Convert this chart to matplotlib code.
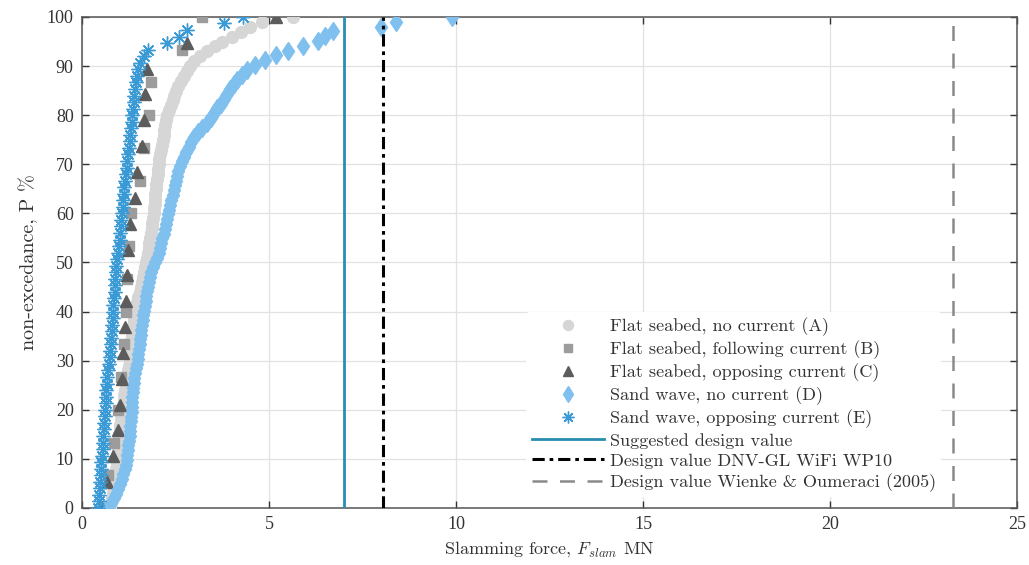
import numpy as np
import matplotlib
matplotlib.use("Agg")
import matplotlib.pyplot as plt

# ---------------- data (sorted slamming forces, MN) ----------------
flat_no_current = [
    0.75, 0.78, 0.80, 0.83, 0.85, 0.87, 0.89, 0.90, 0.92, 0.94, 0.95,
    0.96, 0.97, 0.98, 0.99, 1.00, 1.01, 1.02, 1.04, 1.05, 1.07,
    1.09, 1.11, 1.13, 1.15, 1.17, 1.19, 1.21, 1.23, 1.25, 1.28,
    1.29, 1.30, 1.31, 1.32, 1.34, 1.35, 1.37, 1.38, 1.40, 1.42,
    1.45, 1.48, 1.51, 1.54, 1.57, 1.60, 1.63, 1.66, 1.69, 1.72,
    1.74, 1.76, 1.78, 1.80, 1.82, 1.84, 1.86, 1.87, 1.89, 1.92,
    1.93, 1.94, 1.95, 1.96, 1.97, 1.99, 2.00, 2.02, 2.03, 2.05,
    2.07, 2.09, 2.11, 2.14, 2.16, 2.18, 2.20, 2.22, 2.24, 2.28,
    2.32, 2.37, 2.42, 2.47, 2.52, 2.58, 2.65, 2.72, 2.80, 2.90,
    3.00, 3.15, 3.35, 3.55, 3.75, 4.00, 4.25, 4.50, 4.80, 5.64,
]
flat_following = [0.55, 0.70, 0.85, 0.97, 1.05, 1.12, 1.17, 1.20, 1.25, 1.32,
                  1.55, 1.65, 1.80, 1.85, 2.67, 3.22]
flat_opposing = [0.53, 0.67, 0.83, 0.96, 1.02, 1.07, 1.10, 1.15, 1.18, 1.20,
                 1.22, 1.28, 1.42, 1.47, 1.60, 1.66, 1.68, 1.73, 2.80, 5.20]
sand_no_current = [
    0.70, 0.78, 0.85, 0.91, 0.97, 1.02, 1.07, 1.10, 1.14, 1.17, 1.20,
    1.21, 1.23, 1.24, 1.26, 1.27, 1.28, 1.29, 1.30, 1.32, 1.33,
    1.34, 1.35, 1.35, 1.36, 1.37, 1.38, 1.40, 1.42, 1.45, 1.48,
    1.50, 1.51, 1.53, 1.55, 1.56, 1.58, 1.59, 1.61, 1.62, 1.64,
    1.66, 1.68, 1.70, 1.72, 1.74, 1.76, 1.79, 1.82, 1.85, 1.90,
    1.95, 2.00, 2.05, 2.09, 2.12, 2.15, 2.18, 2.21, 2.24, 2.27,
    2.30, 2.33, 2.36, 2.39, 2.42, 2.45, 2.48, 2.51, 2.54, 2.57,
    2.62, 2.67, 2.72, 2.78, 2.85, 2.92, 3.00, 3.10, 3.22, 3.35,
    3.44, 3.53, 3.62, 3.71, 3.80, 3.88, 3.97, 4.06, 4.15, 4.27,
    4.40, 4.62, 4.90, 5.20, 5.50, 5.90, 6.30, 6.50, 6.70, 8.00,
    8.40, 9.90,
]
sand_opposing = [
    0.43, 0.45, 0.46, 0.48, 0.49, 0.50, 0.51, 0.52, 0.54, 0.55,
    0.56, 0.57, 0.58, 0.59, 0.61, 0.62, 0.63, 0.64, 0.65, 0.66,
    0.68, 0.70, 0.73, 0.75, 0.76, 0.77, 0.78, 0.79, 0.80, 0.82,
    0.83, 0.84, 0.85, 0.87, 0.88, 0.89, 0.90, 0.92, 0.94, 0.97,
    1.00, 1.01, 1.02, 1.04, 1.05, 1.07, 1.09, 1.10, 1.12, 1.13,
    1.15, 1.17, 1.19, 1.21, 1.23, 1.25, 1.27, 1.29, 1.32, 1.33,
    1.34, 1.36, 1.38, 1.40, 1.42, 1.44, 1.46, 1.49, 1.55, 1.65,
    1.77, 2.27, 2.60, 2.80, 3.80, 4.30,
]
suggested_design = 7.0
dnv_design = 8.05
wienke_design = 23.3

labels = [
    "Flat seabed, no current (A)",
    "Flat seabed, following current (B)",
    "Flat seabed, opposing current (C)",
    "Sand wave, no current (D)",
    "Sand wave, opposing current (E)",
    "Suggested design value",
    "Design value DNV-GL WiFi WP10",
    "Design value Wienke & Oumeraci (2005)",
]
x_ticks = [0, 5, 10, 15, 20, 25]
y_ticks = [0, 10, 20, 30, 40, 50, 60, 70, 80, 90, 100]


def ecdf(vals):
    v = np.sort(np.asarray(vals, dtype=float))
    n = len(v)
    return v, 100.0 * np.arange(n) / (n - 1)


# ---------------- figure ----------------
plt.rcParams["font.family"] = ["Liberation Serif", "DejaVu Serif"]
plt.rcParams["mathtext.fontset"] = "cm"

fig = plt.figure(figsize=(10.29, 5.65), dpi=100)
ax = fig.add_axes([0.0797, 0.1009, 0.9086, 0.8691])

styles = [
    (flat_no_current, dict(marker="o", color="#d6d6d6", ms=8.5, mec="#d6d6d6")),
    (flat_following, dict(marker="s", color="#9c9c9c", ms=6.5, mec="#9c9c9c")),
    (flat_opposing, dict(marker="^", color="#5c5c5c", ms=8, mec="#5c5c5c")),
    (sand_no_current, dict(marker="d", color="#80c0ee", ms=9.5, mec="#80c0ee")),
    (sand_opposing, dict(marker=(8, 2, 0), color="#3a9ad6", ms=10, mec="#3a9ad6", mew=1.0)),
]
handles = []
for (vals, st), lab in zip(styles, labels[:5]):
    xs, ps = ecdf(vals)
    h, = ax.plot(xs, ps, linestyle="none", label=lab, zorder=3, **st)
    handles.append(h)

h1 = ax.axvline(suggested_design, color="#2a8db2", lw=2.0, zorder=4, label=labels[5])
h2 = ax.axvline(dnv_design, color="black", lw=2.2, ls=(0, (4, 1.6, 1.2, 1.6)), zorder=4, label=labels[6])
h3 = ax.axvline(wienke_design, color="#8a8a8a", lw=1.8, ls=(0, (6, 5)), zorder=4, label=labels[7])
handles += [h1, h2, h3]

ax.set_xlim(0, 25)
ax.set_ylim(0, 100)
ax.set_xticks(x_ticks)
ax.set_yticks(y_ticks)
ax.grid(True, color="#e2e2e2", lw=0.9, zorder=0)
ax.set_axisbelow(True)
ax.tick_params(direction="in", length=5, width=1.0, top=True, right=True,
               labelsize=13, colors="#333333", pad=6)
for sp in ax.spines.values():
    sp.set_color("#555555")
    sp.set_linewidth(1.1)

ax.set_xlabel(r"Slamming force, $F_{slam}$ MN", fontsize=13, color="#333333",
              family=["cmr10", "DejaVu Serif"], labelpad=4)
ax.set_ylabel("non-excedance, P %", fontsize=14.5, color="#333333",
              family=["cmr10", "DejaVu Serif"], labelpad=6)

leg = ax.legend(handles=handles, loc="lower left", bbox_to_anchor=(0.475, 0.022),
                frameon=True, handlelength=4.0, handletextpad=0.3,
                labelspacing=0.24, borderpad=0.3, borderaxespad=0.0, markerscale=0.85,
                prop={"family": ["cmr10", "DejaVu Serif"], "size": 13.1})
leg.get_frame().set_facecolor("white")
leg.get_frame().set_edgecolor("none")
leg.get_frame().set_alpha(1.0)
leg.set_zorder(3.5)
for t in leg.get_texts():
    t.set_color("#333333")

fig.savefig("out.png", dpi=100)
